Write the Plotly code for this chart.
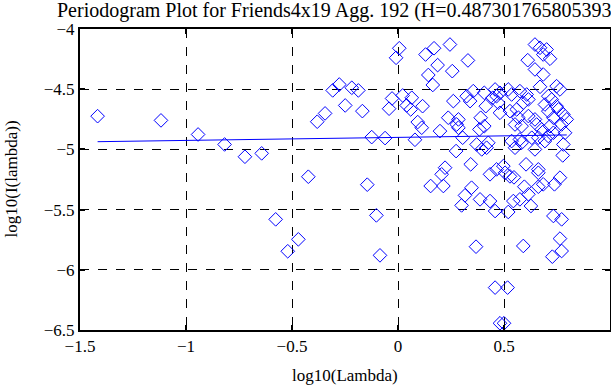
import plotly.graph_objects as go

# Periodogram points: log10(frequency) vs log10(periodogram)
log_lambda = [
    -1.417, -1.118, -0.943, -0.818, -0.722, -0.643, -0.577, -0.520, -0.470, -0.423,
    -0.381, -0.344, -0.308, -0.277, -0.249, -0.218, -0.187, -0.168, -0.145, -0.124,
    -0.102, -0.085, -0.061, -0.042, -0.028, -0.009, 0.006, 0.022, 0.041, 0.060,
    0.065, 0.080, 0.093, 0.112, 0.116, 0.130, 0.143, 0.154, 0.164, 0.170,
    0.187, 0.206, 0.198, 0.222, 0.214, 0.237, 0.245, 0.256, 0.261, 0.274,
    0.285, 0.285, 0.300, 0.305, 0.316, 0.324, 0.330, 0.340, 0.343, 0.347,
    0.355, 0.368, 0.371, 0.384, 0.387, 0.390, 0.407, 0.407, 0.414, 0.418,
    0.426, 0.434, 0.434, 0.447, 0.458, 0.458, 0.465, 0.458, 0.481, 0.500,
    0.517, 0.473, 0.481, 0.481, 0.497, 0.505, 0.528, 0.547, 0.520, 0.544,
    0.575, 0.627, 0.615, 0.596, 0.662, 0.685, 0.738, 0.764, 0.662, 0.591,
    0.733, 0.772, 0.764, 0.772, 0.728, 0.604, 0.662, 0.777, 0.646, 0.670,
    0.701, 0.685, 0.717, 0.612, 0.646, 0.685, 0.670, 0.748, 0.764, 0.709,
    0.725, 0.748, 0.693, 0.709, 0.757, 0.780, 0.796, 0.772, 0.788, 0.780,
    0.520, 0.536, 0.575, 0.607, 0.615, 0.591, 0.528, 0.568, 0.615, 0.646,
    0.583, 0.552, 0.678, 0.717, 0.709, 0.662, 0.536, 0.583, 0.631, 0.552,
    0.646, 0.465, 0.560, 0.575, 0.654, 0.733, 0.733, 0.693, 0.277, 0.395,
]
log_periodogram = [
    -4.724, -4.759, -4.876, -4.959, -5.061, -5.033, -5.581, -5.846, -5.747, -5.227,
    -4.770, -4.701, -4.510, -4.461, -4.635, -4.488, -4.510, -4.682, -5.293, -4.898,
    -5.548, -5.880, -4.906, -4.662, -4.577, -4.239, -4.160, -4.552, -4.635, -4.668,
    -4.571, -4.920, -4.773, -4.820, -4.641, -4.212, -4.382, -5.304, -4.465, -4.160,
    -4.300, -5.207, -4.848, -5.152, -5.304, -4.737, -4.129, -4.350, -4.599, -5.014,
    -4.751, -4.820, -5.465, -4.903, -5.382, -4.558, -4.261, -4.599, -5.124, -5.318,
    -4.516, -5.808, -4.959, -4.834, -5.415, -4.737, -4.530, -4.807, -4.641, -4.986,
    -4.945, -5.207, -5.429, -4.571, -4.502, -5.512, -5.166, -6.148, -6.444, -6.444,
    -6.148, -4.612, -4.530, -4.696, -5.139, -5.194, -5.224, -5.232, -5.520, -5.429,
    -5.415, -5.470, -5.373, -5.310, -5.310, -5.290, -5.290, -5.235, -5.194, -5.802,
    -5.553, -5.581, -5.741, -5.844, -5.891, -5.124, -5.166, -5.050, -4.129, -4.156,
    -4.170, -4.212, -4.247, -4.259, -4.336, -4.378, -4.480, -4.475, -4.502, -4.558,
    -4.585, -4.641, -4.627, -4.682, -4.668, -4.710, -4.751, -4.793, -4.862, -4.959,
    -4.502, -4.544, -4.516, -4.544, -4.585, -4.612, -4.682, -4.737, -4.723, -4.751,
    -4.807, -4.793, -4.834, -4.807, -4.889, -4.903, -4.931, -4.945, -4.903, -4.986,
    -5.000, -4.558, -4.668, -4.917, -4.793, -4.737, -4.862, -4.931, -4.793, -5.000,
]

# Least-squares fit line endpoints
fit_x = [-1.417, 0.796]
fit_y = [-4.936, -4.880]

x_ticks = [-1.5, -1, -0.5, 0, 0.5, 1]
x_tick_labels = ["\u22121.5", "\u22121", "\u22120.5", "0", "0.5", "1"]
y_ticks = [-6.5, -6, -5.5, -5, -4.5, -4]
y_tick_labels = ["\u22126.5", "\u22126", "\u22125.5", "\u22125", "\u22124.5", "\u22124"]

title_text = "Periodogram Plot for Friends4x19 Agg. 192 (H=0.487301765805393)"
x_title = "log10(Lambda)"
y_title = "log10(I(lambda))"

FONT = "Liberation Serif, Times New Roman, serif"
W, H = 611, 385
ML, MR, MT, MB = 80, 1, 29, 55
PW, PH = W - ML - MR, H - MT - MB

fig = go.Figure()
fig.add_trace(go.Scatter(
    x=log_lambda, y=log_periodogram, mode="markers",
    marker=dict(symbol="diamond-open", size=10.5, color="#0000ff",
                line=dict(width=1, color="#0000ff")),
    showlegend=False, hoverinfo="skip"))
fig.add_trace(go.Scatter(
    x=fit_x, y=fit_y, mode="lines",
    line=dict(color="#0000ff", width=1),
    showlegend=False, hoverinfo="skip"))

axis_common = dict(
    showline=True, linecolor="black", linewidth=2, mirror="allticks",
    ticks="inside", ticklen=5, tickwidth=1.5, tickcolor="black",
    showgrid=True, gridcolor="black", gridwidth=1, griddash="dash",
    zeroline=False, automargin=False,
    tickfont=dict(family=FONT, size=17, color="black"),
)

fig.update_layout(
    width=W, height=H,
    margin=dict(l=ML, r=MR, t=MT, b=MB, autoexpand=False),
    paper_bgcolor="white", plot_bgcolor="white",
    font=dict(family=FONT, color="black"),
    title=dict(text=title_text, x=57/W, xref="container", xanchor="left",
               y=1 - 10/H, yref="container", yanchor="middle",
               pad=dict(l=0, r=0, t=0, b=0), automargin=False,
               font=dict(family=FONT, size=20, color="black")),
    xaxis=dict(range=[-1.5, 1], tickvals=x_ticks, ticktext=x_tick_labels,
               **axis_common),
    yaxis=dict(range=[-6.5, -4], tickvals=y_ticks, ticktext=y_tick_labels,
               **axis_common),
    annotations=[
        dict(text=x_title, xref="paper", yref="paper", x=0.5,
             y=-(376 - (MT + PH)) / PH, xanchor="center", yanchor="middle",
             showarrow=False, font=dict(family=FONT, size=17, color="black")),
        dict(text=y_title, xref="paper", yref="paper", x=(11 - ML) / PW,
             y=0.5, xanchor="center", yanchor="middle", textangle=-90,
             showarrow=False, font=dict(family=FONT, size=17, color="black")),
    ],
)

fig.write_html(
    "out.html",
    config={"displayModeBar": False},
    post_script="document.body.style.margin='0';document.body.style.overflow='hidden';",
)
